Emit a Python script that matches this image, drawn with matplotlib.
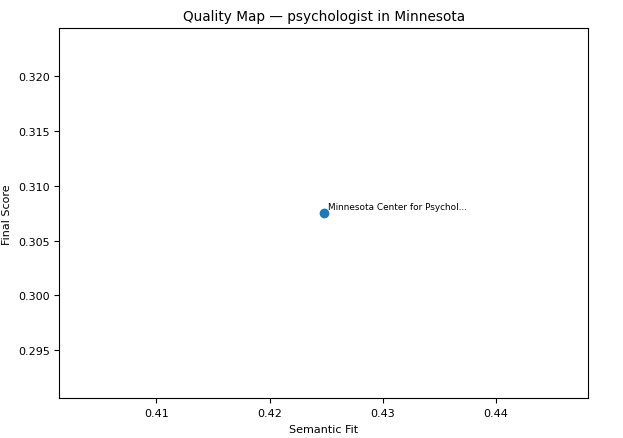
import matplotlib
matplotlib.use("Agg")
import matplotlib.pyplot as plt

names = ["Minnesota Center for Psychol..."]
semantic_fit = [0.4248]
final_score = [0.3075]

fig = plt.figure(figsize=(6.23, 4.39), dpi=100)
ax = fig.add_axes([0.0955, 0.090, 0.8485, 0.844])
ax.scatter(semantic_fit, final_score)
for n, x, y in zip(names, semantic_fit, final_score):
    ax.annotate(n, (x, y), xytext=(3, 3), textcoords="offset points", fontsize=6.4)
ax.set_title("Quality Map — psychologist in Minnesota", fontsize=9.8)
ax.set_xlabel("Semantic Fit", fontsize=8)
ax.set_ylabel("Final Score", fontsize=8)
ax.tick_params(labelsize=8)
fig.savefig("out.png", dpi=100)
